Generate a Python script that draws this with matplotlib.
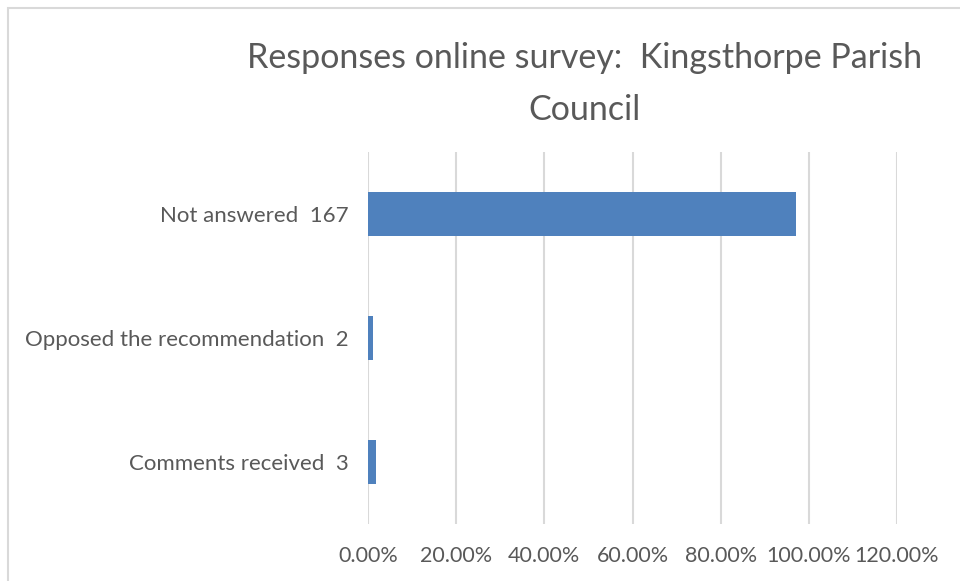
import matplotlib
matplotlib.use("Agg")
import matplotlib.pyplot as plt
from matplotlib.patches import Rectangle
from matplotlib.ticker import FuncFormatter

categories = ["Comments received  3", "Opposed the recommendation  2", "Not answered  167"]
counts = [3, 2, 167]
total = 172
shares = [c / total for c in counts]
xticks = [0, 0.2, 0.4, 0.6, 0.8, 1.0, 1.2]

text_color = "#595959"
grid_color = "#D9D9D9"
bar_color = "#4F81BD"

plt.rcParams["font.family"] = ["Lato", "DejaVu Sans"]

fig = plt.figure(figsize=(9.6, 5.81), dpi=100)
ax = fig.add_axes([368 / 960, 1 - 524 / 581, (897 - 368) / 960, (524 - 152) / 581])

ypos = list(range(len(categories)))
ax.barh(ypos, shares, height=0.355, color=bar_color, zorder=3)
ax.set_yticks(ypos)
ax.set_yticklabels(categories)
ax.set_ylim(-0.5, len(categories) - 0.5)
ax.set_xlim(0, 1.2)
ax.set_xticks(xticks)
ax.xaxis.set_major_formatter(FuncFormatter(lambda v, p: f"{v * 100:.2f}%"))

ax.grid(axis="x", color=grid_color, linewidth=1.5, zorder=0)
for s in ax.spines.values():
    s.set_visible(False)
ax.tick_params(axis="both", length=0, labelcolor=text_color)
ax.tick_params(axis="y", pad=14, labelsize=16)
ax.tick_params(axis="x", pad=16, labelsize=15.5)

# chart border (cropped on right and bottom)
fig.patches.append(Rectangle((8 / 960, -0.1), 1.2, 1 - 8 / 581 + 0.1,
                             transform=fig.transFigure, fill=False,
                             edgecolor=grid_color, linewidth=1.5))

fig.text(585 / 960, 1 - 84 / 581, "Responses online survey:  Kingsthorpe Parish\nCouncil",
         ha="center", va="center", fontsize=24.5, color=text_color, linespacing=1.75)

fig.savefig("out.png", dpi=100)
